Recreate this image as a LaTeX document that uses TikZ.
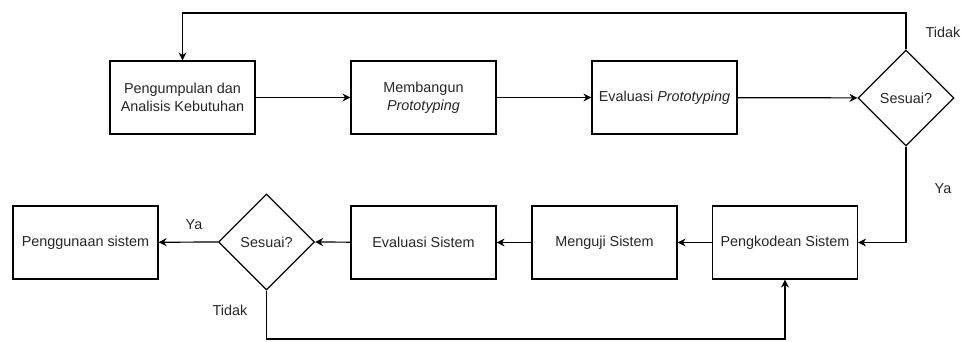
\documentclass[tikz,border=0pt]{standalone}
\usepackage{fontspec}
\setmainfont{Liberation Sans}
\usetikzlibrary{shapes.geometric,arrows.meta}
\begin{document}
\begin{tikzpicture}[x=1pt,y=-1pt, font=\fontsize{14.4}{18}\selectfont,
 box/.style={draw, line width=1.2pt, minimum width=145pt, minimum height=73pt, inner sep=0pt, align=center, text=black!85},
 dec/.style={draw, diamond, line width=1.2pt, minimum width=96pt, minimum height=96pt, inner sep=0pt, text=black!85},
 arr/.style={line width=1.2pt, -{Stealth[length=8pt,width=8pt]}},
 lbl/.style={text=black!85}]
\useasboundingbox (0,0) rectangle (961,341);
\node[box] (p1) at (182.5,97.5) {Pengumpulan dan\\Analisis Kebutuhan};
\node[box] (p2) at (423.5,97.5) {Membangun\\\textit{Prototyping}};
\node[box] (p3) at (664.5,97.5) {Evaluasi \textit{Prototyping}};
\node[dec] (d1) at (906,98) {Sesuai?};
\node[box] (pg) at (85.5,242.5) {Penggunaan sistem};
\node[dec] (d2) at (266.5,242) {Sesuai?};
\node[box] (ev) at (423.5,242.5) {Evaluasi Sistem};
\node[box] (mu) at (604.5,242.5) {Menguji Sistem};
\node[box] (pk) at (785,242.5) {Pengkodean Sistem};
\coordinate (t1) at (906,13);
\coordinate (b1) at (266.5,339);
\draw[arr] (p1) -- (p2);
\draw[arr] (p2) -- (p3);
\draw[arr] (p3) -- (d1);
\draw[arr] (d1.north) -- (t1) -| (p1.north);
\draw[arr] (d1.south) |- (pk.east);
\draw[arr] (pk) -- (mu);
\draw[arr] (mu) -- (ev);
\draw[arr] (ev) -- (d2.east);
\draw[arr] (d2.west) -- (pg);
\draw[arr] (d2.south) -- (b1) -| (pk.south);
\node[lbl] (l1) at (943,32) {Tidak};
\node[lbl] (l2) at (943,189) {Ya};
\node[lbl] (l3) at (194,225) {Ya};
\node[lbl] (l4) at (230,310) {Tidak};
\end{tikzpicture}
\end{document}
